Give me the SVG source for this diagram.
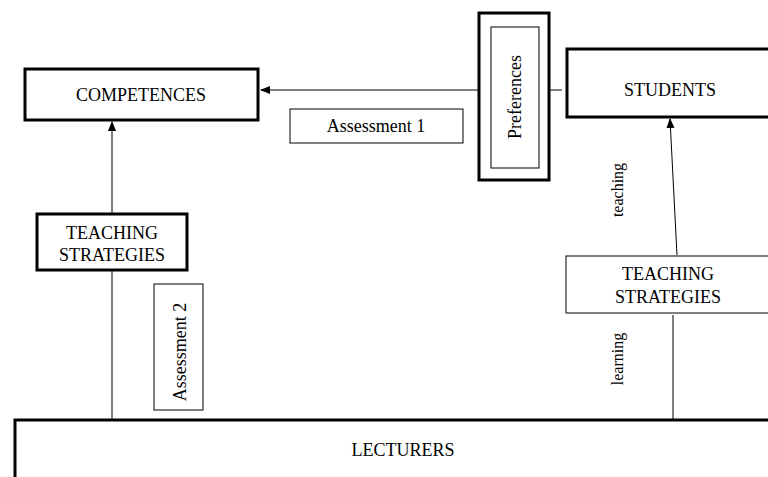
<svg xmlns="http://www.w3.org/2000/svg" width="768" height="477" viewBox="0 0 768 477">
<defs>
<style>
.t{font-family:"Liberation Serif","Times New Roman",serif;font-size:18px;fill:#000;text-anchor:middle;dominant-baseline:central}
.s{font-family:"Liberation Serif","Times New Roman",serif;font-size:16px;fill:#000;text-anchor:middle;dominant-baseline:central}
.thick{fill:#fff;stroke:#000;stroke-width:3}
.thin{fill:#fff;stroke:#000;stroke-width:1}
.ln{fill:none;stroke:#000;stroke-width:1}
</style>
<marker id="ah" markerWidth="10" markerHeight="10" refX="9" refY="5" orient="auto" markerUnits="userSpaceOnUse">
<path d="M0,1 L10,5 L0,9 Z" fill="#000"/>
</marker>
</defs>
<rect width="768" height="477" fill="#fff"/>
<g id="connectors">
<line class="ln" x1="478" y1="90" x2="261" y2="90" marker-end="url(#ah)"/>
<line class="ln" x1="549" y1="90" x2="562" y2="90"/>
<line class="ln" x1="112" y1="213" x2="112" y2="122" marker-end="url(#ah)"/>
<line class="ln" x1="112" y1="271" x2="112" y2="419"/>
<line class="ln" x1="677" y1="255" x2="670" y2="119" marker-end="url(#ah)"/>
<line class="ln" x1="673" y1="315" x2="673" y2="419"/>
</g>
<g id="competences">
<rect class="thick" x="25" y="69" width="233" height="51"/>
<text class="t" x="141" y="95">COMPETENCES</text>
</g>
<g id="assessment1">
<rect class="thin" x="290" y="109" width="173" height="34"/>
<text class="t" x="376" y="126">Assessment 1</text>
</g>
<g id="preferences">
<rect class="thick" x="479" y="13" width="70" height="167"/>
<rect class="thin" x="491" y="27" width="48" height="141"/>
<text class="t" transform="translate(515,97) rotate(-90)">Preferences</text>
</g>
<g id="students">
<rect class="thick" x="567" y="49" width="210" height="68"/>
<text class="t" x="670" y="90">STUDENTS</text>
</g>
<g id="teaching-strategies-left">
<rect class="thick" x="37" y="214" width="150" height="56"/>
<text class="t" x="112" y="233">TEACHING</text>
<text class="t" x="112" y="255">STRATEGIES</text>
</g>
<g id="assessment2">
<rect class="thin" x="154" y="284" width="49" height="126"/>
<text class="t" transform="translate(180,352) rotate(-90)">Assessment 2</text>
</g>
<g id="teaching-label">
<text class="s" transform="translate(617,190) rotate(-90)">teaching</text>
</g>
<g id="learning-label">
<text class="s" transform="translate(617,359) rotate(-90)">learning</text>
</g>
<g id="teaching-strategies-right">
<rect class="thin" x="566" y="256" width="210" height="57"/>
<text class="t" x="668" y="274">TEACHING</text>
<text class="t" x="668" y="297">STRATEGIES</text>
</g>
<g id="lecturers">
<rect class="thick" x="15" y="420" width="770" height="70"/>
<text class="t" x="403" y="450">LECTURERS</text>
</g>
</svg>
